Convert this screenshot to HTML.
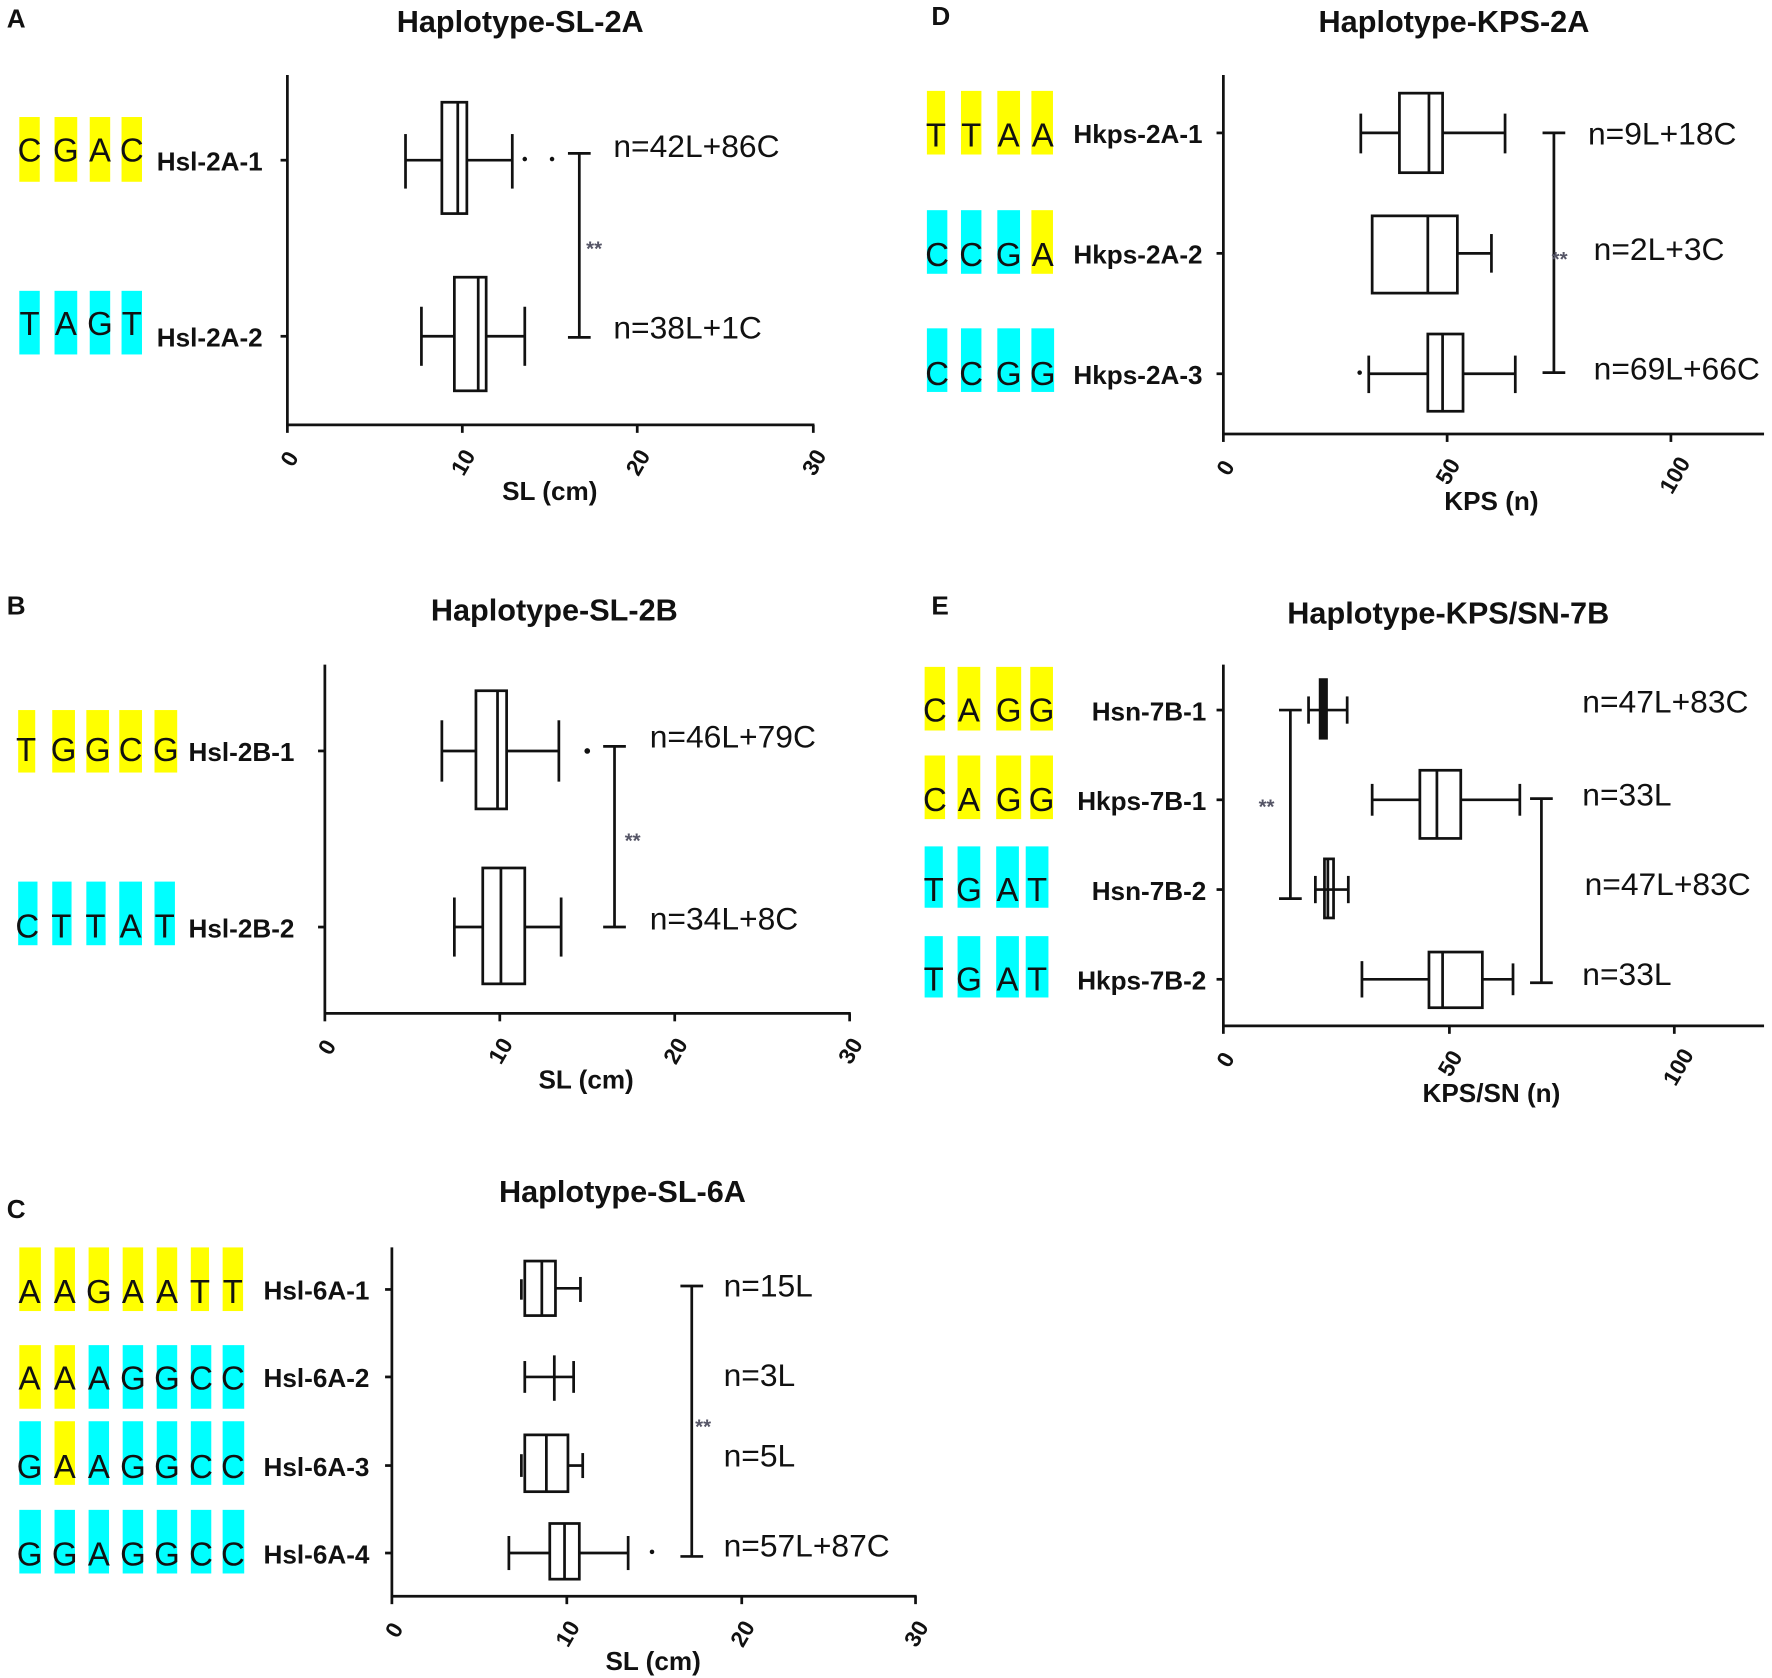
<!DOCTYPE html>
<html><head><meta charset="utf-8"><style>
html,body{margin:0;padding:0;background:#fff;}
svg{display:block;}
text{font-family:"Liberation Sans",Arial,sans-serif;fill:#111;}
.pl{font-size:23px;font-weight:bold;}
.ti{font-size:27px;font-weight:bold;text-anchor:middle;}
.nt{font-size:29px;text-anchor:middle;}
.lb{font-size:23px;font-weight:bold;}
.n{font-size:28px;}
.tk{font-size:20px;font-weight:bold;}
.ax{font-size:23px;font-weight:bold;text-anchor:middle;}
.st{font-size:18px;fill:#556;font-weight:bold;}
line,rect.b,path{stroke:#111;stroke-width:2.4;fill:none;}
.Y{fill:#ffff00;}
.C{fill:#00ffff;}
</style></head><body>
<svg width="1772" height="1678" viewBox="0 0 1560 1477" preserveAspectRatio="none" xmlns="http://www.w3.org/2000/svg">

<!-- ===== Panel A ===== -->
<text class="pl" x="6" y="24">A</text>
<text class="ti" x="458" y="28">Haplotype-SL-2A</text>
<rect class="Y" x="17" y="103" width="18" height="57"/><rect class="Y" x="48" y="103" width="20" height="57"/><rect class="Y" x="79" y="103" width="18" height="57"/><rect class="Y" x="107" y="103" width="18" height="57"/>
<text class="nt" x="26" y="142">C</text><text class="nt" x="58" y="142">G</text><text class="nt" x="88" y="142">A</text><text class="nt" x="116" y="142">C</text>
<rect class="C" x="17" y="256" width="18" height="56"/><rect class="C" x="48" y="256" width="20" height="56"/><rect class="C" x="79" y="256" width="18" height="56"/><rect class="C" x="107" y="256" width="18" height="56"/>
<text class="nt" x="26" y="295">T</text><text class="nt" x="58" y="295">A</text><text class="nt" x="88" y="295">G</text><text class="nt" x="116" y="295">T</text>
<text class="lb" x="138" y="150">Hsl-2A-1</text>
<text class="lb" x="138" y="305">Hsl-2A-2</text>
<line x1="253" y1="66" x2="253" y2="375"/>
<line x1="247" y1="141" x2="253" y2="141"/><line x1="247" y1="296" x2="253" y2="296"/>
<line x1="252" y1="374" x2="717" y2="374"/>
<line x1="253" y1="374" x2="253" y2="381"/><line x1="407" y1="374" x2="407" y2="381"/><line x1="561" y1="374" x2="561" y2="381"/><line x1="716" y1="374" x2="716" y2="381"/>
<text class="tk" transform="translate(258,412) rotate(-60)">0</text>
<text class="tk" transform="translate(408,420) rotate(-60)">10</text>
<text class="tk" transform="translate(562,420) rotate(-60)">20</text>
<text class="tk" transform="translate(717,420) rotate(-60)">30</text>
<text class="ax" x="484" y="440">SL (cm)</text>
<line x1="357" y1="141" x2="389" y2="141"/><line x1="411" y1="141" x2="451" y2="141"/>
<line x1="357" y1="118" x2="357" y2="166"/><line x1="451" y1="118" x2="451" y2="166"/>
<rect class="b" x="389" y="90" width="22" height="98"/><line x1="403" y1="90" x2="403" y2="188"/>
<circle cx="462" cy="140" r="2" fill="#111"/><circle cx="486" cy="140" r="2" fill="#111"/>
<line x1="371" y1="296" x2="400" y2="296"/><line x1="428" y1="296" x2="462" y2="296"/>
<line x1="371" y1="270" x2="371" y2="322"/><line x1="462" y1="270" x2="462" y2="322"/>
<rect class="b" x="400" y="244" width="28" height="100"/><line x1="421" y1="244" x2="421" y2="344"/>
<line x1="510" y1="135" x2="510" y2="297"/><line x1="500" y1="135" x2="520" y2="135"/><line x1="500" y1="297" x2="520" y2="297"/>
<text class="st" x="516" y="225">**</text>
<text class="n" x="540" y="138">n=42L+86C</text>
<text class="n" x="540" y="298">n=38L+1C</text>

<!-- ===== Panel B ===== -->
<text class="pl" x="6" y="541">B</text>
<text class="ti" x="488" y="546">Haplotype-SL-2B</text>
<rect class="Y" x="16" y="625" width="15" height="55"/><rect class="Y" x="46" y="625" width="20" height="55"/><rect class="Y" x="76" y="625" width="20" height="55"/><rect class="Y" x="105" y="625" width="20" height="55"/><rect class="Y" x="136" y="625" width="20" height="55"/>
<text class="nt" x="23" y="670">T</text><text class="nt" x="56" y="670">G</text><text class="nt" x="86" y="670">G</text><text class="nt" x="115" y="670">C</text><text class="nt" x="146" y="670">G</text>
<rect class="C" x="16" y="776" width="17" height="56"/><rect class="C" x="46" y="776" width="17" height="56"/><rect class="C" x="76" y="776" width="17" height="56"/><rect class="C" x="105" y="776" width="20" height="56"/><rect class="C" x="136" y="776" width="18" height="56"/>
<text class="nt" x="24" y="825">C</text><text class="nt" x="54" y="825">T</text><text class="nt" x="84" y="825">T</text><text class="nt" x="115" y="825">A</text><text class="nt" x="145" y="825">T</text>
<text class="lb" x="166" y="670">Hsl-2B-1</text>
<text class="lb" x="166" y="825">Hsl-2B-2</text>
<line x1="286" y1="585" x2="286" y2="893"/>
<line x1="280" y1="661" x2="286" y2="661"/><line x1="280" y1="816" x2="286" y2="816"/>
<line x1="285" y1="892" x2="749" y2="892"/>
<line x1="286" y1="892" x2="286" y2="899"/><line x1="440" y1="892" x2="440" y2="899"/><line x1="594" y1="892" x2="594" y2="899"/><line x1="748" y1="892" x2="748" y2="899"/>
<text class="tk" transform="translate(291,930) rotate(-60)">0</text>
<text class="tk" transform="translate(441,938) rotate(-60)">10</text>
<text class="tk" transform="translate(595,938) rotate(-60)">20</text>
<text class="tk" transform="translate(749,938) rotate(-60)">30</text>
<text class="ax" x="516" y="958">SL (cm)</text>
<line x1="389" y1="661" x2="419" y2="661"/><line x1="446" y1="661" x2="492" y2="661"/>
<line x1="389" y1="634" x2="389" y2="688"/><line x1="492" y1="634" x2="492" y2="688"/>
<rect class="b" x="419" y="608" width="27" height="104"/><line x1="438" y1="608" x2="438" y2="712"/>
<circle cx="517" cy="661" r="2.5" fill="#111"/>
<line x1="400" y1="816" x2="425" y2="816"/><line x1="462" y1="816" x2="494" y2="816"/>
<line x1="400" y1="790" x2="400" y2="842"/><line x1="494" y1="790" x2="494" y2="842"/>
<rect class="b" x="425" y="764" width="37" height="102"/><line x1="441" y1="764" x2="441" y2="866"/>
<line x1="541" y1="657" x2="541" y2="816"/><line x1="531" y1="657" x2="551" y2="657"/><line x1="531" y1="816" x2="551" y2="816"/>
<text class="st" x="550" y="746">**</text>
<text class="n" x="572" y="658">n=46L+79C</text>
<text class="n" x="572" y="818">n=34L+8C</text>

<!-- ===== Panel C ===== -->
<text class="pl" x="6" y="1072">C</text>
<text class="ti" x="548" y="1058">Haplotype-SL-6A</text>
<rect class="Y" x="17" y="1098" width="19" height="56"/><rect class="Y" x="48" y="1098" width="18" height="56"/><rect class="Y" x="78" y="1098" width="18" height="56"/><rect class="Y" x="108" y="1098" width="18" height="56"/><rect class="Y" x="138" y="1098" width="18" height="56"/><rect class="Y" x="168" y="1098" width="16" height="56"/><rect class="Y" x="196" y="1098" width="18" height="56"/>
<text class="nt" x="26" y="1147">A</text><text class="nt" x="57" y="1147">A</text><text class="nt" x="87" y="1147">G</text><text class="nt" x="117" y="1147">A</text><text class="nt" x="147" y="1147">A</text><text class="nt" x="176" y="1147">T</text><text class="nt" x="205" y="1147">T</text>
<rect class="Y" x="17" y="1184" width="19" height="56"/><rect class="Y" x="48" y="1184" width="18" height="56"/><rect class="C" x="78" y="1184" width="18" height="56"/><rect class="C" x="108" y="1184" width="18" height="56"/><rect class="C" x="138" y="1184" width="18" height="56"/><rect class="C" x="168" y="1184" width="18" height="56"/><rect class="C" x="196" y="1184" width="19" height="56"/>
<text class="nt" x="26" y="1223">A</text><text class="nt" x="57" y="1223">A</text><text class="nt" x="87" y="1223">A</text><text class="nt" x="117" y="1223">G</text><text class="nt" x="147" y="1223">G</text><text class="nt" x="177" y="1223">C</text><text class="nt" x="205" y="1223">C</text>
<rect class="C" x="17" y="1251" width="19" height="56"/><rect class="Y" x="48" y="1251" width="18" height="56"/><rect class="C" x="78" y="1251" width="18" height="56"/><rect class="C" x="108" y="1251" width="18" height="56"/><rect class="C" x="138" y="1251" width="18" height="56"/><rect class="C" x="168" y="1251" width="18" height="56"/><rect class="C" x="196" y="1251" width="19" height="56"/>
<text class="nt" x="26" y="1301">G</text><text class="nt" x="57" y="1301">A</text><text class="nt" x="87" y="1301">A</text><text class="nt" x="117" y="1301">G</text><text class="nt" x="147" y="1301">G</text><text class="nt" x="177" y="1301">C</text><text class="nt" x="205" y="1301">C</text>
<rect class="C" x="17" y="1329" width="19" height="56"/><rect class="C" x="48" y="1329" width="18" height="56"/><rect class="C" x="78" y="1329" width="18" height="56"/><rect class="C" x="108" y="1329" width="18" height="56"/><rect class="C" x="138" y="1329" width="18" height="56"/><rect class="C" x="168" y="1329" width="18" height="56"/><rect class="C" x="196" y="1329" width="19" height="56"/>
<text class="nt" x="26" y="1378">G</text><text class="nt" x="57" y="1378">G</text><text class="nt" x="87" y="1378">A</text><text class="nt" x="117" y="1378">G</text><text class="nt" x="147" y="1378">G</text><text class="nt" x="177" y="1378">C</text><text class="nt" x="205" y="1378">C</text>
<text class="lb" x="232" y="1144">Hsl-6A-1</text>
<text class="lb" x="232" y="1221">Hsl-6A-2</text>
<text class="lb" x="232" y="1299">Hsl-6A-3</text>
<text class="lb" x="232" y="1376">Hsl-6A-4</text>
<line x1="345" y1="1098" x2="345" y2="1406"/>
<line x1="339" y1="1135" x2="345" y2="1135"/><line x1="339" y1="1212" x2="345" y2="1212"/><line x1="339" y1="1290" x2="345" y2="1290"/><line x1="339" y1="1367" x2="345" y2="1367"/>
<line x1="344" y1="1405" x2="807" y2="1405"/>
<line x1="345" y1="1405" x2="345" y2="1412"/><line x1="499" y1="1405" x2="499" y2="1412"/><line x1="653" y1="1405" x2="653" y2="1412"/><line x1="806" y1="1405" x2="806" y2="1412"/>
<text class="tk" transform="translate(350,1443) rotate(-60)">0</text>
<text class="tk" transform="translate(500,1451) rotate(-60)">10</text>
<text class="tk" transform="translate(654,1451) rotate(-60)">20</text>
<text class="tk" transform="translate(807,1451) rotate(-60)">30</text>
<text class="ax" x="575" y="1470">SL (cm)</text>
<line x1="489" y1="1134" x2="511" y2="1134"/><line x1="511" y1="1124" x2="511" y2="1146"/><line x1="459" y1="1126" x2="459" y2="1144"/>
<rect class="b" x="462" y="1110" width="27" height="48"/><line x1="477" y1="1110" x2="477" y2="1158"/>
<line x1="462" y1="1212" x2="505" y2="1212"/><line x1="462" y1="1198" x2="462" y2="1226"/><line x1="505" y1="1198" x2="505" y2="1226"/><line x1="488" y1="1193" x2="488" y2="1233"/>
<rect class="b" x="462" y="1263" width="38" height="50"/><line x1="481" y1="1263" x2="481" y2="1313"/>
<line x1="500" y1="1290" x2="513" y2="1290"/><line x1="513" y1="1279" x2="513" y2="1301"/><line x1="459" y1="1280" x2="459" y2="1300"/>
<line x1="448" y1="1367" x2="484" y2="1367"/><line x1="510" y1="1367" x2="553" y2="1367"/>
<line x1="448" y1="1352" x2="448" y2="1382"/><line x1="553" y1="1352" x2="553" y2="1382"/>
<rect class="b" x="484" y="1341" width="26" height="49"/><line x1="497" y1="1341" x2="497" y2="1390"/>
<circle cx="574" cy="1366" r="2" fill="#111"/>
<line x1="609" y1="1132" x2="609" y2="1370"/><line x1="599" y1="1132" x2="619" y2="1132"/><line x1="599" y1="1370" x2="619" y2="1370"/>
<text class="st" x="612" y="1262">**</text>
<text class="n" x="637" y="1141">n=15L</text>
<text class="n" x="637" y="1220">n=3L</text>
<text class="n" x="637" y="1291">n=5L</text>
<text class="n" x="637" y="1370">n=57L+87C</text>

<!-- ===== Panel D ===== -->
<text class="pl" x="820" y="22">D</text>
<text class="ti" x="1280" y="28">Haplotype-KPS-2A</text>
<rect class="Y" x="816" y="80" width="16" height="56"/><rect class="Y" x="846" y="80" width="18" height="56"/><rect class="Y" x="878" y="80" width="20" height="56"/><rect class="Y" x="908" y="80" width="19" height="56"/>
<text class="nt" x="824" y="129">T</text><text class="nt" x="855" y="129">T</text><text class="nt" x="888" y="129">A</text><text class="nt" x="918" y="129">A</text>
<rect class="C" x="816" y="185" width="18" height="56"/><rect class="C" x="846" y="185" width="18" height="56"/><rect class="C" x="878" y="185" width="20" height="56"/><rect class="Y" x="908" y="185" width="19" height="56"/>
<text class="nt" x="825" y="234">C</text><text class="nt" x="855" y="234">C</text><text class="nt" x="888" y="234">G</text><text class="nt" x="918" y="234">A</text>
<rect class="C" x="816" y="289" width="18" height="56"/><rect class="C" x="846" y="289" width="18" height="56"/><rect class="C" x="878" y="289" width="20" height="56"/><rect class="C" x="908" y="289" width="20" height="56"/>
<text class="nt" x="825" y="339">C</text><text class="nt" x="855" y="339">C</text><text class="nt" x="888" y="339">G</text><text class="nt" x="918" y="339">G</text>
<text class="lb" x="945" y="126">Hkps-2A-1</text>
<text class="lb" x="945" y="232">Hkps-2A-2</text>
<text class="lb" x="945" y="338">Hkps-2A-3</text>
<line x1="1077" y1="66" x2="1077" y2="383"/>
<line x1="1071" y1="117" x2="1077" y2="117"/><line x1="1071" y1="223" x2="1077" y2="223"/><line x1="1071" y1="329" x2="1077" y2="329"/>
<line x1="1076" y1="382" x2="1553" y2="382"/>
<line x1="1077" y1="382" x2="1077" y2="389"/><line x1="1274" y1="382" x2="1274" y2="389"/><line x1="1471" y1="382" x2="1471" y2="389"/>
<text class="tk" transform="translate(1082,420) rotate(-60)">0</text>
<text class="tk" transform="translate(1275,428) rotate(-60)">50</text>
<text class="tk" transform="translate(1472,436) rotate(-60)">100</text>
<text class="ax" x="1313" y="449">KPS (n)</text>
<line x1="1198" y1="117" x2="1232" y2="117"/><line x1="1270" y1="117" x2="1325" y2="117"/>
<line x1="1198" y1="100" x2="1198" y2="135"/><line x1="1325" y1="100" x2="1325" y2="135"/>
<rect class="b" x="1232" y="82" width="38" height="70"/><line x1="1258" y1="82" x2="1258" y2="152"/>
<line x1="1283" y1="223" x2="1313" y2="223"/><line x1="1313" y1="206" x2="1313" y2="240"/>
<rect class="b" x="1208" y="190" width="75" height="68"/><line x1="1257" y1="190" x2="1257" y2="258"/>
<line x1="1205" y1="329" x2="1257" y2="329"/><line x1="1288" y1="329" x2="1334" y2="329"/>
<line x1="1205" y1="313" x2="1205" y2="346"/><line x1="1334" y1="313" x2="1334" y2="346"/>
<rect class="b" x="1257" y="294" width="31" height="68"/><line x1="1270" y1="294" x2="1270" y2="362"/>
<circle cx="1197" cy="328" r="2" fill="#111"/>
<line x1="1368" y1="117" x2="1368" y2="328"/><line x1="1358" y1="117" x2="1378" y2="117"/><line x1="1358" y1="328" x2="1378" y2="328"/>
<text class="st" x="1366" y="234">**</text>
<text class="n" x="1398" y="127">n=9L+18C</text>
<text class="n" x="1403" y="229">n=2L+3C</text>
<text class="n" x="1403" y="334">n=69L+66C</text>

<!-- ===== Panel E ===== -->
<text class="pl" x="820" y="541">E</text>
<text class="ti" x="1275" y="549">Haplotype-KPS/SN-7B</text>
<rect class="Y" x="814" y="587" width="18" height="56"/><rect class="Y" x="843" y="587" width="20" height="56"/><rect class="Y" x="877" y="587" width="22" height="56"/><rect class="Y" x="907" y="587" width="20" height="56"/>
<text class="nt" x="823" y="635">C</text><text class="nt" x="853" y="635">A</text><text class="nt" x="888" y="635">G</text><text class="nt" x="917" y="635">G</text>
<rect class="Y" x="814" y="665" width="18" height="56"/><rect class="Y" x="843" y="665" width="20" height="56"/><rect class="Y" x="877" y="665" width="22" height="56"/><rect class="Y" x="907" y="665" width="20" height="56"/>
<text class="nt" x="823" y="714">C</text><text class="nt" x="853" y="714">A</text><text class="nt" x="888" y="714">G</text><text class="nt" x="917" y="714">G</text>
<rect class="C" x="814" y="745" width="16" height="54"/><rect class="C" x="843" y="745" width="20" height="54"/><rect class="C" x="877" y="745" width="20" height="54"/><rect class="C" x="903" y="745" width="20" height="54"/>
<text class="nt" x="822" y="793">T</text><text class="nt" x="853" y="793">G</text><text class="nt" x="887" y="793">A</text><text class="nt" x="913" y="793">T</text>
<rect class="C" x="814" y="824" width="16" height="54"/><rect class="C" x="843" y="824" width="20" height="54"/><rect class="C" x="877" y="824" width="20" height="54"/><rect class="C" x="903" y="824" width="20" height="54"/>
<text class="nt" x="822" y="872">T</text><text class="nt" x="853" y="872">G</text><text class="nt" x="887" y="872">A</text><text class="nt" x="913" y="872">T</text>
<text class="lb" x="1062" y="634" text-anchor="end">Hsn-7B-1</text>
<text class="lb" x="1062" y="713" text-anchor="end">Hkps-7B-1</text>
<text class="lb" x="1062" y="792" text-anchor="end">Hsn-7B-2</text>
<text class="lb" x="1062" y="871" text-anchor="end">Hkps-7B-2</text>
<line x1="1077" y1="585" x2="1077" y2="904"/>
<line x1="1071" y1="625" x2="1077" y2="625"/><line x1="1071" y1="704" x2="1077" y2="704"/><line x1="1071" y1="783" x2="1077" y2="783"/><line x1="1071" y1="862" x2="1077" y2="862"/>
<line x1="1076" y1="903" x2="1553" y2="903"/>
<line x1="1077" y1="903" x2="1077" y2="910"/><line x1="1276" y1="903" x2="1276" y2="910"/><line x1="1474" y1="903" x2="1474" y2="910"/>
<text class="tk" transform="translate(1082,941) rotate(-60)">0</text>
<text class="tk" transform="translate(1277,949) rotate(-60)">50</text>
<text class="tk" transform="translate(1475,957) rotate(-60)">100</text>
<text class="ax" x="1313" y="970">KPS/SN (n)</text>
<line x1="1152" y1="625" x2="1186" y2="625"/><line x1="1152" y1="613" x2="1152" y2="637"/><line x1="1186" y1="613" x2="1186" y2="637"/>
<rect x="1161" y="597" width="8" height="54" fill="#111"/>
<line x1="1208" y1="704" x2="1250" y2="704"/><line x1="1286" y1="704" x2="1338" y2="704"/>
<line x1="1208" y1="690" x2="1208" y2="718"/><line x1="1338" y1="690" x2="1338" y2="718"/>
<rect class="b" x="1250" y="678" width="36" height="60"/><line x1="1265" y1="678" x2="1265" y2="738"/>
<line x1="1158" y1="783" x2="1187" y2="783"/><line x1="1158" y1="771" x2="1158" y2="795"/><line x1="1187" y1="771" x2="1187" y2="795"/>
<rect class="b" x="1166" y="756" width="8" height="52"/><line x1="1169" y1="756" x2="1169" y2="808"/>
<line x1="1199" y1="862" x2="1258" y2="862"/><line x1="1305" y1="862" x2="1332" y2="862"/>
<line x1="1199" y1="846" x2="1199" y2="878"/><line x1="1332" y1="848" x2="1332" y2="876"/>
<rect class="b" x="1258" y="838" width="47" height="49"/><line x1="1270" y1="838" x2="1270" y2="887"/>
<line x1="1136" y1="625" x2="1136" y2="791"/><line x1="1126" y1="625" x2="1146" y2="625"/><line x1="1126" y1="791" x2="1146" y2="791"/>
<text class="st" x="1108" y="716">**</text>
<line x1="1357" y1="703" x2="1357" y2="865"/><line x1="1347" y1="703" x2="1367" y2="703"/><line x1="1347" y1="865" x2="1367" y2="865"/>
<text class="n" x="1393" y="627">n=47L+83C</text>
<text class="n" x="1393" y="709">n=33L</text>
<text class="n" x="1395" y="788">n=47L+83C</text>
<text class="n" x="1393" y="867">n=33L</text>
</svg>
</body></html>
